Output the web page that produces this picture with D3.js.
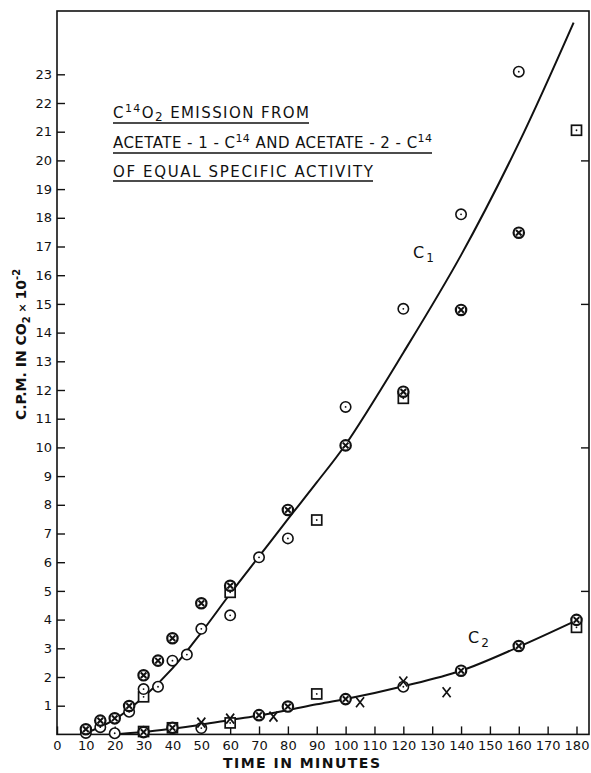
<!DOCTYPE html>
<html>
<head>
<meta charset="utf-8">
<script src="https://cdn.jsdelivr.net/npm/d3@7"></script>
<style>
  body { margin: 0; background: #fff; }
  svg { display: block; }
  .tick text { font-family: "DejaVu Sans", sans-serif; font-size: 13px; fill: #111; }
  .tick line { stroke: #111; stroke-width: 1.4; }
</style>
</head>
<body>
<div id="chart"></div>
<script>
// tick labels
var xTicks = [0, 10, 20, 30, 40, 50, 60, 70, 80, 90, 100, 110, 120, 130, 140, 150, 160, 170, 180];
var yTicks = [1, 2, 3, 4, 5, 6, 7, 8, 9, 10, 11, 12, 13, 14, 15, 16, 17, 18, 19, 20, 21, 22, 23];
var yRightTicks = [5, 10, 15, 20];

// [minutes, cpm x 10^-2], one array per marker kind
var openCircle = [[10, 0.05], [15, 0.25], [20, 0.04], [25, 0.79], [30, 1.58], [35, 1.66], [40, 2.57], [45, 2.78],
  [50, 3.68], [60, 4.15], [70, 6.17], [80, 6.83], [100, 11.41], [120, 14.83], [140, 18.12], [160, 23.09],
  [50, 0.22], [120, 1.66]];
var crossCircle = [[10, 0.18], [15, 0.48], [20, 0.56], [25, 0.99], [30, 2.06], [35, 2.57], [40, 3.35], [50, 4.57],
  [60, 5.18], [80, 7.82], [100, 10.07], [120, 11.94], [140, 14.79], [160, 17.48],
  [30, 0.08], [40, 0.23], [70, 0.67], [80, 0.97], [100, 1.23], [140, 2.22], [160, 3.08], [180, 3.99]];
var dotSquare = [[30, 1.31], [60, 4.95], [90, 7.47], [120, 11.71], [180, 21.05],
  [30, 0.1], [40, 0.23], [60, 0.4], [90, 1.41], [180, 3.73]];
var crossMark = [[50, 0.41], [60, 0.55], [75, 0.62], [105, 1.12], [120, 1.84], [135, 1.47]];

// drawn curves C1 and C2
var c1Time = [9, 20, 30, 40, 50, 60, 70, 80, 90, 100, 120, 140, 160, 179];
var c1Value = [0, 0.52, 1.3, 2.3, 3.55, 4.9, 6.2, 7.5, 8.78, 10.1, 13.3, 16.7, 20.6, 24.8];
var c2Time = [19, 30, 40, 50, 60, 70, 80, 90, 100, 120, 140, 160, 180];
var c2Value = [0, 0.08, 0.2, 0.34, 0.5, 0.66, 0.85, 1.05, 1.23, 1.68, 2.22, 3.05, 3.97];

var width = 591, height = 773;
var plotLeft = 57, plotRight = 589, plotTop = 11, plotBottom = 734.4;

var svg = d3.select("#chart").append("svg")
  .attr("width", width).attr("height", height);

var x = d3.scaleLinear().domain([0, 180]).range([plotLeft, 576.5]);
var y = d3.scaleLinear().domain([0, 25]).range([plotBottom, plotBottom - 25 * 28.7]);

// frame
svg.append("rect")
  .attr("x", plotLeft).attr("y", plotTop)
  .attr("width", plotRight - plotLeft).attr("height", plotBottom - plotTop)
  .attr("fill", "none").attr("stroke", "#111").attr("stroke-width", 1.6);

svg.append("g")
  .attr("transform", "translate(0," + plotBottom + ")")
  .call(d3.axisBottom(x).tickValues(xTicks).tickSize(-8).tickPadding(6).tickFormat(d3.format("d")))
  .call(function (g) { g.select(".domain").remove(); });

svg.append("g")
  .attr("transform", "translate(" + plotLeft + ",0)")
  .call(d3.axisLeft(y).tickValues(yTicks).tickSize(-8).tickPadding(5).tickFormat(d3.format("d")))
  .call(function (g) { g.select(".domain").remove(); });

svg.append("g")
  .attr("transform", "translate(" + plotRight + ",0)")
  .call(d3.axisRight(y).tickValues(yRightTicks).tickSize(-8).tickFormat(""))
  .call(function (g) { g.select(".domain").remove(); });

// axis titles
svg.append("text")
  .attr("x", 223).attr("y", 768)
  .attr("textLength", 157).attr("lengthAdjust", "spacing")
  .style("font-family", "'DejaVu Sans', sans-serif").style("font-size", "14px").style("font-weight", "bold")
  .style("fill", "#111")
  .text("TIME IN MINUTES");

var yt = svg.append("text")
  .attr("transform", "translate(26,420) rotate(-90)")
  .style("font-family", "'DejaVu Sans', sans-serif").style("font-size", "14px").style("font-weight", "bold")
  .style("fill", "#111");
yt.append("tspan").text("C.P.M.  IN  CO");
yt.append("tspan").attr("dy", 4).style("font-size", "10px").text("2");
yt.append("tspan").attr("dy", -4).style("font-size", "11px").text(" × ");
yt.append("tspan").text("10");
yt.append("tspan").attr("dy", -6).style("font-size", "10px").text("-2");

// curves
var line = d3.line()
  .x(function (d) { return x(d[0]); })
  .y(function (d) { return y(d[1]); })
  .curve(d3.curveCatmullRom.alpha(0.5));

svg.append("path")
  .datum(c1Time.map(function (t, i) { return [t, c1Value[i]]; }))
  .attr("d", line).attr("fill", "none").attr("stroke", "#111").attr("stroke-width", 2);
svg.append("path")
  .datum(c2Time.map(function (t, i) { return [t, c2Value[i]]; }))
  .attr("d", line).attr("fill", "none").attr("stroke", "#111").attr("stroke-width", 2);

// markers
svg.selectAll(".sq").data(dotSquare).enter().append("g").attr("class", "sq")
  .attr("transform", function (d) { return "translate(" + x(d[0]) + "," + y(d[1]) + ")"; })
  .each(function () {
    var g = d3.select(this);
    g.append("rect").attr("x", -5).attr("y", -5).attr("width", 10).attr("height", 10)
      .attr("fill", "#fff").attr("stroke", "#111").attr("stroke-width", 1.7);
    g.append("circle").attr("r", 0.9).attr("fill", "#111");
  });

svg.selectAll(".oc").data(openCircle).enter().append("g").attr("class", "oc")
  .attr("transform", function (d) { return "translate(" + x(d[0]) + "," + y(d[1]) + ")"; })
  .each(function () {
    var g = d3.select(this);
    g.append("circle").attr("r", 5.2).attr("fill", "#fff").attr("stroke", "#111").attr("stroke-width", 1.6);
    g.append("circle").attr("r", 0.9).attr("fill", "#111");
  });

svg.selectAll(".cc").data(crossCircle).enter().append("g").attr("class", "cc")
  .attr("transform", function (d) { return "translate(" + x(d[0]) + "," + y(d[1]) + ")"; })
  .each(function () {
    var g = d3.select(this);
    g.append("circle").attr("r", 5.2).attr("fill", "#fff").attr("stroke", "#111").attr("stroke-width", 2.2);
    g.append("path").attr("d", "M-2.8,-2.8L2.8,2.8M-2.8,2.8L2.8,-2.8")
      .attr("stroke", "#111").attr("stroke-width", 2);
  });

svg.selectAll(".xm").data(crossMark).enter().append("path").attr("class", "xm")
  .attr("transform", function (d) { return "translate(" + x(d[0]) + "," + y(d[1]) + ")"; })
  .attr("d", "M-4,-5L4,5M-4,5L4,-5")
  .attr("fill", "none").attr("stroke", "#111").attr("stroke-width", 1.7);

// curve labels
function curveLabel(px, py, sub) {
  var t = svg.append("text").attr("x", px).attr("y", py)
    .style("font-family", "'DejaVu Sans', sans-serif").style("font-size", "16px").style("fill", "#111");
  t.append("tspan").text("C");
  t.append("tspan").attr("dx", 2).attr("dy", 4).style("font-size", "12px").text(sub);
}
curveLabel(413, 258, "1");
curveLabel(468, 643, "2");

// title block
var titleFont = "'DejaVu Sans', sans-serif";
var t1 = svg.append("text").attr("x", 113).attr("y", 118)
  .attr("textLength", 196).attr("lengthAdjust", "spacing")
  .style("font-family", titleFont).style("font-size", "15px").style("fill", "#111");
t1.append("tspan").text("C");
t1.append("tspan").attr("dy", -6).style("font-size", "11px").text("14");
t1.append("tspan").attr("dy", 6).text("O");
t1.append("tspan").attr("dy", 3).style("font-size", "12px").text("2");
t1.append("tspan").attr("dy", -3).text(" EMISSION  FROM");

var t2 = svg.append("text").attr("x", 113).attr("y", 148)
  .attr("textLength", 319).attr("lengthAdjust", "spacing")
  .style("font-family", titleFont).style("font-size", "15px").style("fill", "#111");
t2.append("tspan").text("ACETATE - 1 - C");
t2.append("tspan").attr("dy", -6).style("font-size", "11px").text("14");
t2.append("tspan").attr("dy", 6).text("  AND  ACETATE - 2 - C");
t2.append("tspan").attr("dy", -6).style("font-size", "11px").text("14");

svg.append("text").attr("x", 113).attr("y", 177)
  .attr("textLength", 260).attr("lengthAdjust", "spacing")
  .style("font-family", titleFont).style("font-size", "15px").style("fill", "#111")
  .text("OF  EQUAL  SPECIFIC  ACTIVITY");

var underlines = [[123, 309], [153, 432], [181, 373]];
svg.selectAll(".ul").data(underlines).enter().append("line").attr("class", "ul")
  .attr("x1", 113).attr("x2", function (d) { return d[1]; })
  .attr("y1", function (d) { return d[0]; }).attr("y2", function (d) { return d[0]; })
  .attr("stroke", "#111").attr("stroke-width", 1.4);
</script>
</body>
</html>
